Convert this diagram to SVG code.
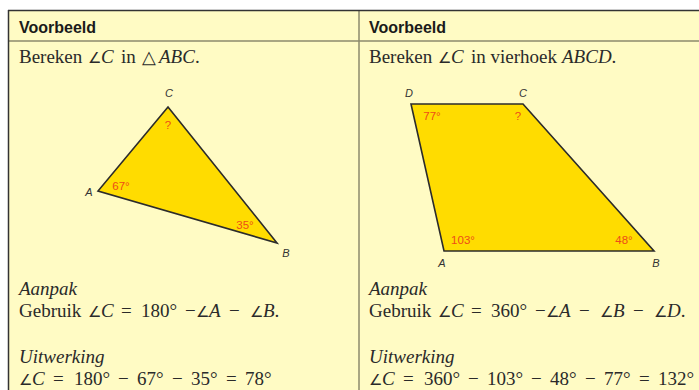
<svg xmlns="http://www.w3.org/2000/svg" width="699" height="390" viewBox="0 0 699 390">
<style>
.hd{font-family:"Liberation Sans",Arial,sans-serif;font-weight:bold;font-size:16px;fill:#1a1a1a}
.tx{font-family:"Liberation Serif","Times New Roman",serif;font-size:19px;fill:#2a2a2a}
.it{font-style:italic}
.ang{font-family:"DejaVu Sans ExtraLight","DejaVu Sans",sans-serif;font-weight:200;font-style:normal;font-size:15px}
.tri{font-family:"DejaVu Sans ExtraLight","DejaVu Sans",sans-serif;font-weight:200;font-style:normal;font-size:18px}
.lb{font-family:"Liberation Sans",Arial,sans-serif;font-style:italic;font-size:11px;fill:#333;text-anchor:middle}
.an{font-family:"Liberation Sans",Arial,sans-serif;font-size:11.5px;fill:#ee4c18;text-anchor:middle}
.shape{fill:#ffdc00;stroke:#2b2b2b;stroke-width:1.6;stroke-linejoin:miter}
</style>
<rect x="0" y="0" width="699" height="390" fill="#ffffff"/>
<g id="table">
<rect x="8" y="10" width="700" height="390" fill="#fffbc4"/>
<line x1="8" y1="41" x2="699" y2="41" stroke="#8c8a6c" stroke-width="1.5"/>
<line x1="359" y1="10" x2="359" y2="390" stroke="#8c8a6c" stroke-width="1.5"/>
<line x1="8" y1="10.5" x2="699" y2="10.5" stroke="#333" stroke-width="1.5"/>
<line x1="8.5" y1="10" x2="8.5" y2="390" stroke="#333" stroke-width="1.5"/>
</g>
<g id="left">
<text class="hd" x="19" y="33">Voorbeeld</text>
<text class="tx" y="63"><tspan x="19">Bereken</tspan><tspan class="ang" x="88">∠</tspan><tspan class="it" x="101">C</tspan><tspan x="121">in</tspan><tspan class="tri" x="142">△</tspan><tspan class="it" x="159">ABC</tspan>.</text>
<g id="triangle">
<polygon class="shape" points="168,107 98,191 277,243"/>
<text class="lb" x="169" y="97">C</text>
<text class="lb" x="89" y="196">A</text>
<text class="lb" x="286" y="257">B</text>
<text class="an" x="168" y="129">?</text>
<text class="an" x="121" y="190">67°</text>
<text class="an" x="245" y="229">35°</text>
</g>
<text class="tx it" x="19" y="295">Aanpak</text>
<text class="tx" y="317"><tspan x="19">Gebruik</tspan><tspan class="ang" x="88">∠</tspan><tspan class="it" x="101">C</tspan><tspan x="121">=</tspan><tspan x="141">180°</tspan><tspan x="185">−</tspan><tspan class="ang" x="196">∠</tspan><tspan class="it" x="209">A</tspan><tspan x="229">−</tspan><tspan class="ang" x="250">∠</tspan><tspan class="it" x="263">B</tspan>.</text>
<text class="tx it" x="19" y="363">Uitwerking</text>
<text class="tx" y="385"><tspan class="ang" x="19">∠</tspan><tspan class="it" x="32">C</tspan><tspan x="53">=</tspan><tspan x="74">180°</tspan><tspan x="118">−</tspan><tspan x="137">67°</tspan><tspan x="172">−</tspan><tspan x="191">35°</tspan><tspan x="226">=</tspan><tspan x="245">78°</tspan></text>
</g>
<g id="right">
<text class="hd" x="369" y="33">Voorbeeld</text>
<text class="tx" y="63"><tspan x="369">Bereken</tspan><tspan class="ang" x="438">∠</tspan><tspan class="it" x="451">C</tspan><tspan x="471">in vierhoek</tspan><tspan class="it" x="562">ABCD</tspan>.</text>
<g id="quad">
<polygon class="shape" points="411,104 523,104 654,251 444,251"/>
<text class="lb" x="409" y="97">D</text>
<text class="lb" x="523" y="97">C</text>
<text class="lb" x="442" y="267">A</text>
<text class="lb" x="656" y="267">B</text>
<text class="an" x="432" y="120">77°</text>
<text class="an" x="518" y="120">?</text>
<text class="an" x="463" y="244">103°</text>
<text class="an" x="624" y="244">48°</text>
</g>
<text class="tx it" x="369" y="295">Aanpak</text>
<text class="tx" y="317"><tspan x="369">Gebruik</tspan><tspan class="ang" x="438">∠</tspan><tspan class="it" x="451">C</tspan><tspan x="471">=</tspan><tspan x="491">360°</tspan><tspan x="535">−</tspan><tspan class="ang" x="546">∠</tspan><tspan class="it" x="559">A</tspan><tspan x="579">−</tspan><tspan class="ang" x="600">∠</tspan><tspan class="it" x="613">B</tspan><tspan x="633">−</tspan><tspan class="ang" x="654">∠</tspan><tspan class="it" x="667">D</tspan>.</text>
<text class="tx it" x="369" y="363">Uitwerking</text>
<text class="tx" y="385"><tspan class="ang" x="369">∠</tspan><tspan class="it" x="382">C</tspan><tspan x="403">=</tspan><tspan x="424">360°</tspan><tspan x="468">−</tspan><tspan x="487">103°</tspan><tspan x="531">−</tspan><tspan x="550">48°</tspan><tspan x="585">−</tspan><tspan x="604">77°</tspan><tspan x="639">=</tspan><tspan x="658">132°</tspan></text>
</g>
</svg>
